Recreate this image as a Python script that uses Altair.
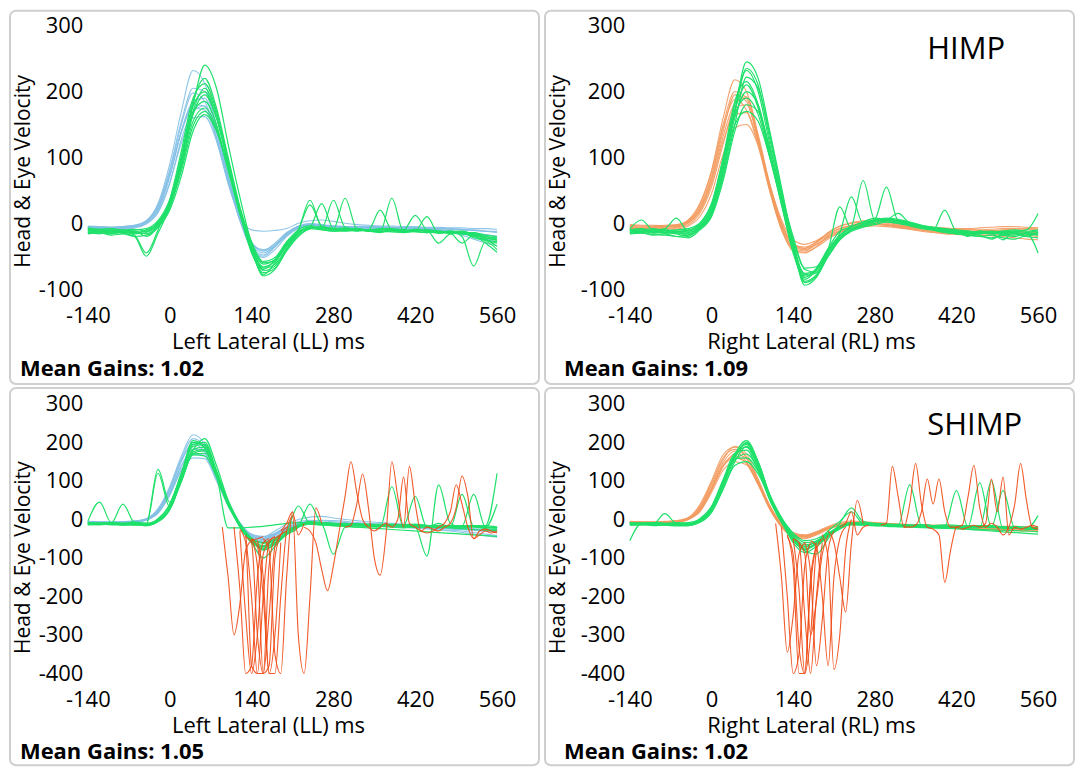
import altair as alt
import pandas as pd

FONT = "Open Sans"

# sample times (ms) of the traces
T20 = [-140, -120, -100, -80, -60, -40, -20, 0, 20, 40, 60, 80, 100, 120, 140, 160, 180, 200,
       220, 240, 260, 280, 300, 320, 340, 360, 380, 400, 420, 440, 460, 480, 500, 520, 540, 560]

X_TICKS = [-140, 0, 140, 280, 420, 560]
Y_TICKS_TOP = [-100, 0, 100, 200, 300]
Y_TICKS_BOTTOM = [-400, -300, -200, -100, 0, 100, 200, 300]
X_TITLES = ["Left Lateral (LL) ms", "Right Lateral (RL) ms", "Left Lateral (LL) ms", "Right Lateral (RL) ms"]
GAINS = ["1.02", "1.09", "1.05", "1.02"]
TAGS = ["", "HIMP", "", "SHIMP"]
Y_TITLE = "Head & Eye Velocity"

# ---------------- HIMP, left lateral ----------------
LL_HIMP_HEAD = [
    [-6,-7,-8,-7,-5,3,30,90,170,232,212,150,72,8,-30,-42,-30,-14,-4,0,-2,-4,-5,-6,-5,-5,-6,-7,-6,-7,-7,-8,-9,-10,-12,-14],
    [-4,-5,-6,-5,-3,4,28,82,155,205,200,145,70,5,-38,-50,-36,-18,-6,-2,-3,-5,-6,-5,-6,-7,-6,-6,-7,-8,-8,-9,-10,-11,-12,-13],
    [-8,-9,-9,-8,-6,0,20,70,140,185,190,140,72,12,-30,-40,-32,-15,-5,-1,-3,-4,-5,-6,-6,-5,-7,-8,-9,-9,-10,-12,-14,-16,-18,-20],
    [-5,-6,-6,-6,-4,2,22,72,138,175,172,130,65,6,-40,-52,-40,-20,-8,-3,-4,-5,-6,-7,-6,-6,-7,-7,-8,-9,-10,-11,-13,-15,-17,-20],
    [-7,-8,-8,-7,-5,1,18,62,122,160,162,125,62,8,-32,-45,-34,-16,-5,-2,-4,-5,-5,-6,-7,-7,-8,-8,-9,-10,-11,-13,-16,-20,-24,-28],
    [-6,-6,-7,-6,-4,3,26,78,150,198,185,132,64,4,-36,-48,-35,-17,-6,-2,-3,-4,-5,-5,-6,-6,-6,-7,-7,-8,-8,-9,-10,-11,-12,-12],
    [-5,-5,-6,-5,-3,4,24,74,140,180,178,128,60,10,-10,-12,-11,-8,0,4,5,3,0,-2,-3,-4,-4,-5,-5,-6,-6,-7,-7,-8,-8,-9],
    [-9,-9,-10,-9,-7,-1,16,60,128,170,178,138,70,14,-28,-42,-34,-18,-7,-3,-5,-6,-7,-8,-8,-8,-9,-9,-10,-11,-12,-14,-18,-24,-30,-34],
]
LL_HIMP_EYE = [
    [-12,-10,-14,-12,-15,-10,0,30,95,180,240,205,120,40,-30,-72,-65,-40,-18,-8,-5,-10,-8,-10,-12,-10,-9,-12,-10,-11,-13,-12,-15,-14,-18,-20],
    [-8,-12,-10,-15,-12,-20,-5,28,100,185,220,175,100,25,-40,-78,-60,-32,-12,-6,30,-8,-10,-8,-12,-14,-10,-12,-9,-13,-12,-16,-14,-20,-25,-28],
    [-15,-14,-16,-13,-18,-45,-10,35,110,190,212,170,95,18,-45,-70,-55,-30,-10,35,-5,-8,-10,-12,-10,-9,-11,-13,-12,-10,-14,-13,-16,-18,-22,-26],
    [-10,-9,-12,-10,-14,-12,2,32,92,170,205,165,88,15,-42,-75,-68,-40,-16,-6,-8,35,-6,-10,-11,-13,-12,-10,-12,-14,-13,-15,-30,-18,-24,-35],
    [-13,-16,-12,-15,-20,-50,-15,25,88,165,195,160,90,20,-38,-66,-58,-35,-14,-5,-9,-12,-10,-8,-11,-13,38,-12,-11,-10,-12,-14,-13,-16,-20,-24],
    [-9,-10,-8,-12,-10,-8,4,36,98,168,185,150,82,18,-35,-62,-55,-30,-10,28,-4,-8,-9,-11,-10,20,-10,-12,-9,-12,-15,-13,-12,-18,-30,-44],
    [-14,-12,-15,-14,-16,-14,-2,26,85,155,175,145,80,14,-40,-68,-62,-38,-15,-8,-10,-12,-11,-9,-12,-10,-8,-10,12,-10,-14,-12,-20,-65,-28,-40],
    [-11,-13,-11,-14,-12,-16,-4,24,80,148,170,142,82,20,-30,-60,-56,-34,-14,-6,-7,-9,38,-8,-10,-12,-10,-11,-13,-14,-12,-13,-14,-15,-20,-22],
    [-16,-14,-18,-16,-20,-18,-6,20,72,140,165,140,85,24,-28,-58,-52,-28,-10,-4,-8,-10,-12,-10,-11,-12,-13,-14,-12,10,-15,-14,-16,-18,-22,-25],
    [-7,-9,-8,-10,-9,-12,0,34,102,178,200,160,92,22,-36,-80,-70,-42,-20,-8,-6,-8,-7,-9,-10,-8,-9,-10,-12,-11,-30,-16,-14,-22,-26,-30],
]

# ---------------- HIMP, right lateral ----------------
RL_HIMP_HEAD = [
    [-2,-3,-3,-4,-3,5,30,80,160,218,200,130,55,-5,-35,-38,-28,-15,-5,0,2,3,2,-2,-5,-7,-8,-8,-9,-9,-10,-9,-8,-8,-9,-10],
    [-5,-6,-6,-5,-4,2,22,68,140,195,185,125,50,-8,-42,-45,-35,-20,-10,-3,0,2,0,-3,-6,-8,-10,-12,-12,-13,-12,-11,-12,-13,-14,-15],
    [-8,-8,-9,-9,-7,-2,15,55,120,175,180,128,58,-2,-32,-36,-28,-18,-8,-3,-1,0,-2,-5,-8,-10,-12,-13,-14,-15,-14,-13,-12,-12,-13,-14],
    [-4,-4,-5,-5,-3,3,25,72,145,188,172,118,48,-10,-40,-44,-36,-24,-14,-8,-4,-2,-3,-5,-7,-8,-9,-10,-11,-12,-12,-11,-10,-9,-8,-7],
    [-10,-10,-11,-11,-9,-4,10,45,105,145,150,118,58,5,-25,-32,-26,-16,-8,-4,-2,-1,-3,-6,-9,-12,-14,-16,-17,-18,-18,-17,-16,-15,-16,-18],
    [-6,-7,-7,-6,-5,1,20,64,132,182,192,135,60,2,-34,-40,-32,-20,-12,-6,-3,-1,-2,-4,-6,-7,-8,-9,-10,-10,-11,-12,-14,-16,-18,-20],
    [-3,-4,-4,-3,-2,4,28,78,150,200,190,128,52,-6,-38,-42,-30,-14,-4,1,4,5,3,0,-3,-5,-6,-7,-8,-8,-7,-6,-5,-5,-6,-7],
    [-7,-8,-8,-8,-6,0,18,60,125,165,168,122,56,0,-30,-38,-32,-22,-14,-8,-5,-4,-5,-7,-9,-11,-13,-15,-16,-17,-18,-19,-20,-22,-24,-25],
]
RL_HIMP_EYE = [
    [-12,-10,-14,-12,-15,-14,-6,15,80,170,245,220,140,55,-30,-90,-80,-50,-25,-10,0,5,8,6,2,-3,-8,-10,-12,-14,-12,-15,-14,-12,-10,15],
    [-10,-8,-12,-10,-12,-10,-2,25,95,180,232,200,120,40,-40,-85,-70,-42,-18,-5,2,6,55,4,0,-4,-8,-12,-14,-15,-16,-14,-18,-20,-15,-45],
    [-15,-14,-18,-16,-20,-18,-8,12,70,150,222,205,135,50,-28,-80,-75,-45,-15,40,0,4,6,3,-2,-6,-10,-14,-16,-18,-20,-22,-18,-16,-20,-14],
    [-8,5,-10,-8,8,-12,0,30,100,185,215,180,105,30,-45,-82,-68,-38,-12,-4,65,5,4,2,-2,-6,-10,-12,-14,-12,-15,-14,-12,-10,-12,-10],
    [-14,-12,-15,-14,-16,-20,-6,18,82,160,200,180,110,38,-36,-78,-72,-44,-20,-6,2,8,6,15,0,-5,-8,-10,-12,-14,-13,-12,-16,-18,-14,-12],
    [-11,-13,-10,-14,-12,-16,-4,22,90,165,190,165,100,32,-38,-76,-70,-40,25,-8,-2,4,2,0,-4,-8,-10,20,-12,-14,-15,-13,-12,-14,-16,-18],
    [-9,-10,-8,-11,-10,-8,0,28,98,172,210,175,102,28,-42,-88,-78,-48,-22,-10,-4,0,4,2,-2,-5,-9,-12,-14,-16,-18,-24,-16,-14,-20,-22],
    [-16,-15,-17,-18,-20,-22,-10,10,65,140,180,170,115,45,-20,-70,-74,-50,-25,-12,-6,-2,2,0,-3,-6,-10,-14,-16,-18,-20,-18,-22,-24,-18,-16],
    [-13,-14,-12,-15,-14,-18,-8,15,75,150,170,155,100,40,-25,-68,-66,-40,-18,-8,-2,3,5,4,0,-4,-6,-8,-10,-12,-14,-16,-14,-15,-16,-14],
    [-10,-12,-11,-10,-13,-12,-3,20,88,168,235,210,128,48,-34,-94,-82,-50,-24,-10,-4,2,6,5,1,-3,-6,-9,-11,-20,-12,-14,-25,-12,-14,-16],
]

# ---------------- SHIMP, left lateral ----------------
LL_SHIMP_HEAD = [
    [-5,-6,-7,-6,-4,2,28,85,165,220,195,120,45,-15,-45,-52,-40,-22,-10,-6,-8,-10,-12,-14,-15,-16,-18,-20,-22,-24,-26,-28,-30,-34,-38,-42],
    [-8,-8,-9,-8,-6,0,22,76,150,200,185,115,40,-18,-48,-55,-42,-24,-12,-8,-10,-11,-12,-13,-14,-15,-16,-17,-18,-20,-22,-24,-26,-28,-30,-32],
    [-6,-7,-7,-7,-5,1,25,80,155,195,175,108,38,-12,-40,-45,-30,-12,0,6,8,4,0,-3,-6,-8,-10,-12,-14,-16,-18,-20,-22,-24,-26,-28],
    [-10,-10,-11,-10,-8,-2,18,68,140,182,178,115,45,-10,-42,-50,-40,-26,-14,-10,-12,-14,-15,-16,-17,-18,-19,-20,-21,-22,-23,-24,-25,-26,-27,-28],
    [-7,-8,-8,-7,-5,1,20,70,138,172,165,105,38,-14,-46,-58,-46,-28,-14,-8,-9,-11,-13,-14,-16,-17,-18,-20,-22,-24,-27,-30,-34,-38,-42,-46],
    [-9,-9,-10,-9,-7,-1,16,62,128,168,170,110,42,-8,-38,-44,-36,-22,-12,-7,-8,-9,-10,-12,-13,-14,-16,-18,-20,-21,-22,-23,-24,-25,-26,-27],
    [-6,-6,-7,-6,-4,2,20,66,130,160,158,100,36,-12,-40,-48,-38,-22,-10,-4,-2,-3,-5,-8,-10,-12,-14,-16,-18,-20,-22,-24,-26,-28,-30,-32],
    [-8,-9,-9,-8,-6,0,24,78,158,210,188,118,44,-12,-44,-50,-36,-18,-6,-2,-4,-6,-8,-10,-12,-14,-15,-16,-18,-19,-20,-22,-24,-26,-28,-30],
]
LL_SHIMP_EYE = [
    [-5,45,-8,-10,-6,-10,0,40,120,205,185,110,35,-15,-55,-70,-50,-30,-15,-8,-10,-12,-10,-12,-14,-16,-15,-14,-16,-18,-20,-18,-16,-18,-20,-22],
    [-10,-12,-10,40,-8,-10,130,45,120,190,195,120,40,-20,-60,-100,-70,-35,-15,-5,-12,-90,-20,-15,-12,-14,-16,-18,-20,-18,-15,-16,-18,-20,-22,-20],
    [-12,-10,-12,-14,-12,-16,-4,30,110,180,210,140,50,-10,-50,-80,-65,-40,-20,40,-10,-12,-14,-16,-15,-18,-16,-14,-12,-15,-18,-20,-22,-18,-16,-20],
    [-8,-9,-8,-10,-9,-12,0,36,115,195,200,128,45,-15,-55,-75,-55,-32,35,-10,-12,-14,-16,-15,-18,-20,85,-20,-15,-18,-20,-18,-16,-18,-20,-22],
    [-14,-12,-14,-13,-15,-14,-6,25,100,172,178,118,44,-18,-60,-72,-60,-38,-20,-12,-14,-16,-18,-20,-18,-16,-15,-18,-20,-95,90,-10,-20,-18,-24,-26],
    [-10,-11,-10,-12,-11,-13,120,32,108,182,188,122,46,-16,-52,-68,-52,-30,-16,-8,-10,-12,-14,-16,-14,-12,-14,-16,60,-20,-10,-20,65,-18,-20,40],
    [-12,-13,-11,-14,-12,-14,-4,28,102,170,172,115,-22,-22,-20,-18,-14,-10,-8,-12,-14,-16,-18,-20,-22,-24,-26,-28,-30,-32,-34,-36,-38,-40,-42,-44],
    [-8,-10,-9,-11,-10,-12,2,38,118,200,192,118,40,-18,-58,-78,-62,-38,-18,-6,-8,-10,-12,-14,-16,-14,-12,-15,-14,-16,-18,-20,-18,65,-20,-22],
    [-11,-12,-13,-11,-14,-12,-3,30,104,176,182,120,48,-12,-50,-62,-55,-35,-18,-10,-12,-14,-13,-15,-16,-18,-20,-22,-20,-18,-20,-22,-24,-26,-28,-30],
    [-13,-14,-12,-15,-13,-16,-5,26,98,168,165,112,42,-14,-48,-60,-50,-30,-14,-6,-8,-10,-12,-11,-13,-15,-14,-16,-18,-20,-22,-20,-18,-16,-16,120],
]
LL_SHIMP_SACC = [
    ([90,100,110,120,130,140,150,160], [-20,-150,-300,-220,-80,-55,-50,-45]),
    ([110,120,130,140,150,160,170], [-20,-180,-430,-380,-150,-60,-50]),
    ([120,130,140,150,160,170,180], [-30,-250,-460,-300,-90,-55,-45]),
    ([130,140,150,160,170,180,190], [-40,-200,-450,-420,-120,-50,-40]),
    ([130,140,150,160,170,180,190,200], [-45,-60,-300,-470,-250,-70,-40,-30]),
    ([140,150,160,170,180,190,200], [-50,-120,-440,-380,-100,-40,-20]),
    ([150,160,170,180,190,200,210], [-55,-150,-420,-450,-200,-30,10]),
    ([160,170,180,190,200,210,220,230], [-50,-80,-350,-460,-150,20,-40,-10]),
    ([190,200,210,220,230,240,250,260], [-30,-10,20,-300,-480,-200,30,-10]),
    ([120,130,140,150,160,170,180], [-25,-60,-380,-430,-200,-60,-45]),
    ([140,150,160,170,180,190], [-50,-70,-200,-440,-300,-60]),
    ([230,240,250,260,270,280,290,300,310,320,330,340,350,360,370,380,390,400,410,420,430,440,450,460,470,480,490,500,510,520,530,540,550,560],
     [-20,-30,-60,-130,-185,-120,-30,60,150,70,0,-20,-30,-20,-10,-20,0,110,-10,-20,-30,-35,-30,-20,-10,20,90,40,-20,-50,-40,-30,-35,-30]),
    ([300,310,320,330,340,350,360,370,380,390,400,410,420,430,440,450,460,470,480,490,500,510,520,530,540,550,560],
     [-20,-15,40,118,30,-100,-145,-40,150,60,-20,138,40,-30,-20,-25,-30,-20,-10,30,113,60,-50,-30,-25,-30,-35]),
]

# ---------------- SHIMP, right lateral ----------------
RL_SHIMP_HEAD = [
    [-8,-9,-9,-8,-6,2,30,90,155,190,170,105,35,-15,-40,-45,-35,-22,-14,-10,-12,-14,-15,-16,-17,-18,-19,-20,-22,-24,-25,-26,-27,-28,-29,-30],
    [-6,-7,-7,-6,-4,4,34,95,160,182,160,100,30,-18,-44,-48,-38,-24,-14,-9,-10,-11,-12,-13,-14,-15,-16,-17,-18,-19,-20,-21,-22,-23,-24,-25],
    [-10,-10,-11,-10,-8,-1,22,76,138,170,158,100,36,-10,-36,-42,-34,-22,-12,-8,-9,-10,-12,-14,-16,-18,-20,-21,-22,-23,-24,-25,-26,-27,-28,-28],
    [-7,-8,-8,-7,-5,3,28,84,148,178,150,92,28,-16,-40,-44,-36,-24,-15,-10,-10,-11,-13,-15,-17,-19,-20,-21,-22,-23,-24,-24,-25,-25,-26,-26],
    [-9,-9,-10,-9,-7,0,24,78,138,160,148,95,34,-12,-34,-40,-32,-20,-12,-8,-8,-9,-10,-12,-13,-14,-15,-16,-17,-18,-19,-20,-21,-22,-23,-24],
    [-5,-6,-6,-5,-3,5,38,100,168,188,162,98,30,-20,-46,-50,-40,-26,-16,-11,-11,-12,-12,-13,-14,-14,-15,-15,-16,-16,-17,-17,-18,-18,-19,-19],
    [-8,-8,-9,-8,-6,1,20,70,128,150,142,92,32,-12,-38,-42,-32,-18,-8,-4,-6,-8,-10,-12,-14,-16,-18,-20,-22,-24,-26,-27,-28,-29,-30,-31],
    [-6,-7,-8,-7,-5,2,26,80,142,165,145,90,26,-18,-42,-46,-36,-22,-12,-7,-8,-10,-12,-14,-15,-16,-17,-18,-19,-20,-21,-22,-23,-24,-25,-26],
]
RL_SHIMP_EYE = [
    [-55,-10,-8,-10,-9,-8,0,30,100,170,205,150,60,-5,-60,-86,-70,-45,-25,-12,-14,-16,-15,-14,-16,-18,-20,-22,-20,-18,-16,-18,-20,-22,-24,-20],
    [-12,-10,-12,15,-10,-12,-2,26,92,160,200,148,62,0,-50,-80,-60,-38,-18,-8,-10,-12,-14,-16,90,-15,-16,-18,-20,-22,-18,-16,-20,-22,-24,-25],
    [-14,-12,-14,-13,-15,-14,-6,20,82,150,190,142,60,-2,-46,-76,-65,-40,-20,-10,-12,-14,-13,-15,-16,-14,-16,-18,75,-20,-16,-18,-20,-22,-24,-22],
    [-10,-11,-10,-12,-11,-13,-3,28,96,165,195,140,54,-6,-55,-78,-60,-30,-5,20,-10,-12,-14,-16,-15,-18,-16,-14,-15,-18,95,-20,-22,-18,-20,-22],
    [-8,-9,-8,-10,-9,-10,2,34,104,172,180,128,50,-8,-50,-70,-56,-36,-18,-8,-10,-12,-14,-15,-16,-17,-18,-19,-20,-21,-22,100,-24,-22,-24,-26],
    [-13,-14,-12,-15,-13,-16,-5,24,88,155,170,130,55,-4,-42,-66,-60,-42,-24,-12,-13,-15,-14,-16,-18,-20,-22,-20,-18,-16,-18,-20,75,-22,-24,-26],
    [-11,-12,-13,-11,-14,-12,-3,28,94,158,160,125,58,2,-38,-60,-56,-38,-20,-10,-12,-14,-16,-18,-16,-14,-16,-18,-20,-22,-20,-18,-20,-22,-24,10],
    [-9,-10,-9,-11,-10,-12,0,32,100,168,188,135,52,-6,-52,-82,-90,-50,-10,30,-5,-10,-12,-14,-16,-18,-20,-22,-24,-26,-28,-30,-32,-34,-36,-38],
    [-15,-14,-16,-15,-17,-16,-8,18,78,140,150,118,56,4,-35,-55,-50,-35,-22,-14,-15,-16,-18,-19,-20,-21,-22,-23,-24,-25,-26,-27,-28,-29,-30,-32],
    [-10,-12,-11,-13,-12,-14,-4,26,90,162,198,150,65,5,-44,-72,-64,-42,-22,-10,-10,-11,-12,-13,-14,-15,-16,-17,-18,-19,-20,-21,-22,-23,-24,-25],
]
RL_SHIMP_SACC = [
    ([110,120,130,140,150,160], [-10,-150,-345,-250,-90,-60]),
    ([120,130,140,150,160,170], [-20,-200,-430,-350,-120,-60]),
    ([130,140,150,160,170,180], [-40,-120,-400,-450,-150,-70]),
    ([140,150,160,170,180,190], [-50,-180,-440,-300,-80,-50]),
    ([150,160,170,180,190,200], [-60,-90,-300,-210,-90,-40]),
    ([160,170,180,190,200,210], [-60,-140,-380,-260,-80,-30]),
    ([170,180,190,200,210,220,230], [-55,-70,-200,-380,-150,-50,-20]),
    ([190,200,210,220,230,240], [-40,-100,-390,-300,-80,0]),
    ([200,210,220,230,240,250,260], [-30,-60,-150,-240,-60,50,-10]),
    ([220,230,240,250,260,270], [-20,-10,20,-40,-20,-15]),
    ([140,150,160,170,180,190], [-50,-60,-250,-420,-200,-60]),
    ([130,140,150,160,170,180], [-45,-90,-330,-410,-170,-60]),
    ([290,300,310,320,330,340,350,360,370,380,390,400,410,420,430,440,450,460,470,480,490,500,510,520,530,540,550,560],
     [-15,-10,138,60,-20,40,145,40,-20,-25,-40,-163,-80,-20,-15,60,140,30,-20,-10,-20,-40,-20,40,145,50,-20,-25]),
    ([330,340,350,360,370,380,390,400,410,420,430,440,450,460,470,480,490,500,510,520,530,540,550,560],
     [-20,-20,-15,20,105,40,105,20,-20,-20,-25,-20,-15,-20,-10,105,20,110,-40,-20,-25,-20,-15,-20]),
]

BLUE = "#84c0e6"
ORANGE = "#f39a5e"
GREEN = "#1fe06a"
RED = "#f04812"

TICK_SIZE = 22
TITLE_SIZE = 22


def grid_frame(traces, name):
    rows = []
    for i, vals in enumerate(traces):
        assert len(vals) == len(T20), (name, i, len(vals))
        for t, v in zip(T20, vals):
            rows.append({"t": t, "v": v, "trace": f"{name}{i}"})
    return pd.DataFrame(rows)


def seg_frame(segs, name):
    rows = []
    for i, (ts, vs) in enumerate(segs):
        assert len(ts) == len(vs), (name, i, len(ts), len(vs))
        for t, v in zip(ts, vs):
            rows.append({"t": t, "v": v, "trace": f"{name}{i}"})
    return pd.DataFrame(rows)


def txt(s, x, y, size, weight="normal", align="left", angle=0):
    return alt.Chart(pd.DataFrame({"s": [s]})).mark_text(
        font=FONT, fontSize=size, fontWeight=weight, align=align,
        baseline="middle", angle=angle, color="black"
    ).encode(x=alt.value(x), y=alt.value(y), text="s:N")


def panel(idx, head, head_color, eye, sacc, bottom, right):
    W = 530
    if bottom:
        H = 378
        ydom, yticks, yrange = [-400, 300], Y_TICKS_BOTTOM, [286, 16]
        xlab_y, xtitle_y, gains_y, ytitle_y, tag_y = 312, 339, 365, 170, 38
    else:
        H = 374
        ydom, yticks, yrange = [-100, 300], Y_TICKS_TOP, [279, 15]
        xlab_y, xtitle_y, gains_y, ytitle_y, tag_y = 305, 332, 359, 161, 39
    if right:
        xrange, yoff, ytitle_x, xtitle_x, gains_x = [85, 494], -80, 14, 267, 19
    else:
        xrange, yoff, ytitle_x, xtitle_x, gains_x = [78, 488], -73, 14, 259, 10

    X = alt.X("t:Q", scale=alt.Scale(domain=[-140, 560], range=xrange, nice=False, zero=False),
              axis=alt.Axis(values=X_TICKS, title=None, grid=False, domain=False, ticks=False,
                            tickSize=0, labelPadding=0, offset=xlab_y - H, labelFlush=False,
                            labelOverlap=False, labelBaseline="middle", labelFont=FONT,
                            labelFontSize=TICK_SIZE, labelColor="black",
                            labelExpr="'' + datum.value"))
    Y = alt.Y("v:Q", scale=alt.Scale(domain=ydom, range=yrange, nice=False, zero=False, clamp=True),
              axis=alt.Axis(values=yticks, title=None, grid=False, domain=False, ticks=False,
                            tickSize=0, labelPadding=0, offset=yoff, labelFlush=False,
                            labelOverlap=False, labelFont=FONT, labelFontSize=TICK_SIZE,
                            labelColor="black", labelExpr="'' + datum.value"))

    layers = [
        alt.Chart(grid_frame(head, f"h{idx}_")).mark_line(
            color=head_color, strokeWidth=1.1, interpolate="monotone", opacity=0.9
        ).encode(x=X, y=Y, detail="trace:N"),
        alt.Chart(grid_frame(eye, f"e{idx}_")).mark_line(
            color=GREEN, strokeWidth=1.2, interpolate="monotone"
        ).encode(x=X, y=Y, detail="trace:N"),
    ]
    if sacc:
        layers.append(alt.Chart(seg_frame(sacc, f"s{idx}_")).mark_line(
            color=RED, strokeWidth=1.1, interpolate="monotone", opacity=0.9
        ).encode(x=X, y=Y, detail="trace:N"))
    layers.append(txt(Y_TITLE, ytitle_x, ytitle_y, 21, angle=270, align="center"))
    layers.append(txt(X_TITLES[idx], xtitle_x, xtitle_y, TITLE_SIZE, align="center"))
    layers.append(txt("Mean Gains: " + GAINS[idx], gains_x, gains_y, 22, weight="bold"))
    if TAGS[idx]:
        layers.append(txt(TAGS[idx], 383, tag_y, 31))
    return alt.layer(*layers).properties(width=W, height=H)


p1 = panel(0, LL_HIMP_HEAD, BLUE, LL_HIMP_EYE, None, False, False)
p2 = panel(1, RL_HIMP_HEAD, ORANGE, RL_HIMP_EYE, None, False, True)
p3 = panel(2, LL_SHIMP_HEAD, BLUE, LL_SHIMP_EYE, LL_SHIMP_SACC, True, False)
p4 = panel(3, RL_SHIMP_HEAD, ORANGE, RL_SHIMP_EYE, RL_SHIMP_SACC, True, True)

chart = alt.vconcat(
    alt.hconcat(p1, p2, spacing=4),
    alt.hconcat(p3, p4, spacing=4),
    spacing=2,
    padding=1,
    background="white",
).configure_view(stroke="#cfcfcf", strokeWidth=2, cornerRadius=6)

chart.save("out.html", embed_options={"renderer": "svg", "actions": False})
